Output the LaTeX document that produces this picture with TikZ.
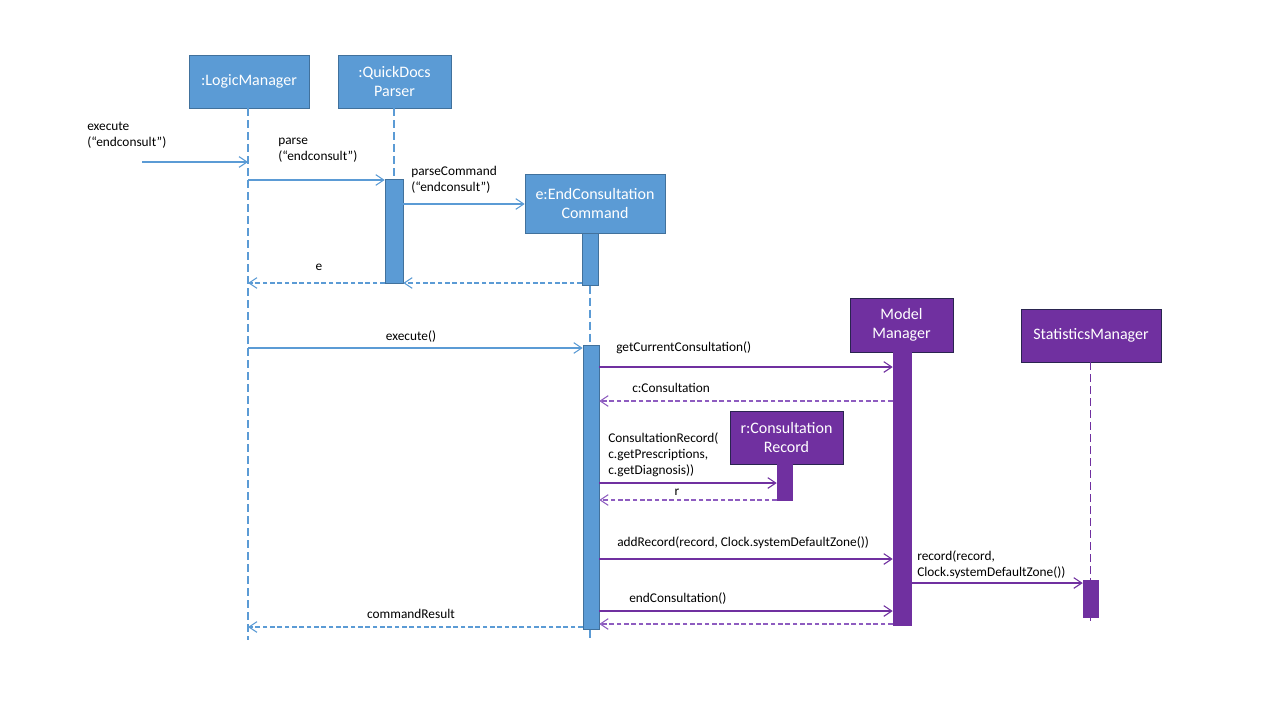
\documentclass[tikz,border=0pt]{standalone}
\usepackage{fontspec}
\setmainfont{Carlito}
\usetikzlibrary{arrows.meta}
\definecolor{bfill}{HTML}{5B9BD5}
\definecolor{bedge}{HTML}{41719C}
\definecolor{pfill}{HTML}{7030A0}
\definecolor{pedge}{HTML}{2A2450}
\definecolor{pdash}{HTML}{8E5CC0}
\tikzset{
  objbox/.style={rectangle, text=white, align=center, inner sep=0pt,
    font=\fontsize{12}{14.5}\selectfont},
  bluebox/.style={objbox, draw=bedge, fill=bfill},
  purplebox/.style={objbox, draw=pedge, fill=pfill},
  bact/.style={rectangle, draw=bedge, fill=bfill, inner sep=0pt, anchor=north},
  pact/.style={rectangle, draw=pfill, fill=pfill, inner sep=0pt, anchor=north},
  blifeline/.style={draw=bfill, line width=1.4pt, dash pattern=on 6pt off 3pt},
  plifeline/.style={draw=pfill, line width=1.4pt, dash pattern=on 6pt off 3pt},
  tip/.style={-{Straight Barb[length=6pt,width=8pt]}},
  bmsg/.style={tip, draw=bfill, line width=0.8pt},
  bret/.style={tip, draw=bfill, line width=0.8pt, dash pattern=on 3.5pt off 2pt},
  pmsg/.style={tip, draw=pfill, line width=0.8pt},
  pret/.style={tip, draw=pdash, line width=0.8pt, dash pattern=on 3.5pt off 2pt},
  lbl/.style={font=\fontsize{10}{12}\selectfont, inner sep=0pt, align=left, text=black},
}
\begin{document}
\begin{tikzpicture}[x=0.75pt, y=-0.75pt]
\useasboundingbox (0,0) rectangle (1280,720);
\fill[white] (0,0) rectangle (1280,720);

% objects
\node[bluebox, minimum width=90pt, minimum height=39.75pt] (lm) at (249,81.5) {:LogicManager};
\node[bluebox, minimum width=84.75pt, minimum height=39.75pt] (qp) at (394.5,81.5) {:QuickDocs\\Parser};
\node[bluebox, minimum width=105pt, minimum height=44.25pt] (ec) at (595,203.5) {e:EndConsultation\\Command};
\node[purplebox, minimum width=77.25pt, minimum height=40.5pt] (mm) at (901.5,325) {Model\\Manager};
\node[purplebox, minimum width=105pt, minimum height=39.75pt] (sm) at (1091,335.5) {StatisticsManager};
\node[purplebox, minimum width=84.75pt, minimum height=39.75pt] (cr) at (786.5,437.5) {r:Consultation\\Record};

% activation bars
\node[bact, minimum width=13.5pt, minimum height=78pt] (pa) at (394,179) {};
\node[bact, minimum width=12pt, minimum height=39pt] (ea1) at (590,233) {};
\node[bact, minimum width=12pt, minimum height=213pt] (ea2) at (591,345) {};
\node[pact, minimum width=13.5pt, minimum height=204.75pt] (ma) at (902,352) {};
\node[pact, minimum width=11.25pt, minimum height=27.75pt] (sa) at (1090.5,580) {};
\node[pact, minimum width=11.25pt, minimum height=27pt] (ra) at (784.5,464) {};

% lifelines
\coordinate (lml) at (248,640);
\coordinate (ecl) at (590,640);
\coordinate (sml) at (1091,621);
\draw[blifeline] (lm.south -| lml) -- (lml);
\draw[blifeline] (qp.south -| pa.north) -- (pa.north);
\draw[blifeline] (ea1.south) -- (ea2.north -| ea1.south);
\draw[blifeline] (ea2.south -| ecl) -- (ecl);
\draw[plifeline] (sm.south -| sa.north) -- (sa.north);
\draw[plifeline] (sa.south) -- (sml -| sa.south);

% messages
\coordinate (ext) at (142,162);
\draw[bmsg] (ext) -- (lml |- 0,162);
\node[lbl, anchor=west] (l1) at (87,135) {execute\\(“endconsult”)};

\draw[bmsg] (lml |- 0,180) -- (pa.west |- 0,180);
\node[lbl, anchor=west] (l2) at (278,150.5) {parse\\(“endconsult”)};

\draw[bmsg] (pa.east |- 0,204) -- (ec.west |- 0,204);
\node[lbl, anchor=west] (l3) at (411,180) {parseCommand\\(“endconsult”)};

\draw[bret] (pa.west |- 0,283) -- (lml |- 0,283);
\node[lbl] (l4) at (319,267) {e};
\draw[bret] (ea1.west |- 0,283) -- (pa.east |- 0,283);

\draw[bmsg] (lml |- 0,348) -- (ea2.west |- 0,348);
\node[lbl] (l5) at (411,337) {execute()};

\draw[pmsg] (ea2.east |- 0,367) -- (ma.west |- 0,367);
\node[lbl, anchor=west] (l6) at (616,348) {getCurrentConsultation()};

\draw[pret] (ma.west |- 0,401) -- (ea2.east |- 0,401);
\node[lbl, anchor=west] (l7) at (632,388) {c:Consultation};

\draw[pmsg] (ea2.east |- 0,483) -- (ra.west |- 0,483);
\node[lbl, anchor=west] (l8) at (608,455) {ConsultationRecord(\\c.getPrescriptions,\\c.getDiagnosis))};

\draw[pret] (ra.west |- 0,500) -- (ea2.east |- 0,500);
\node[lbl] (l9) at (677,492) {r};

\draw[pmsg] (ea2.east |- 0,559) -- (ma.west |- 0,559);
\node[lbl, anchor=west] (l10) at (617,543) {addRecord(record, Clock.systemDefaultZone())};

\draw[pmsg] (ma.east |- 0,583) -- (sa.west |- 0,583);
\node[lbl, anchor=west] (l11) at (917,564.5) {record(record,\\Clock.systemDefaultZone())};

\draw[pmsg] (ea2.east |- 0,611) -- (ma.west |- 0,611);
\node[lbl, anchor=west] (l12) at (629,599) {endConsultation()};

\draw[pret] (ma.west |- 0,624) -- (ea2.east |- 0,624);

\draw[bret] (ea2.west |- 0,627) -- (lml |- 0,627);
\node[lbl] (l13) at (411,614) {commandResult};
\end{tikzpicture}
\end{document}
